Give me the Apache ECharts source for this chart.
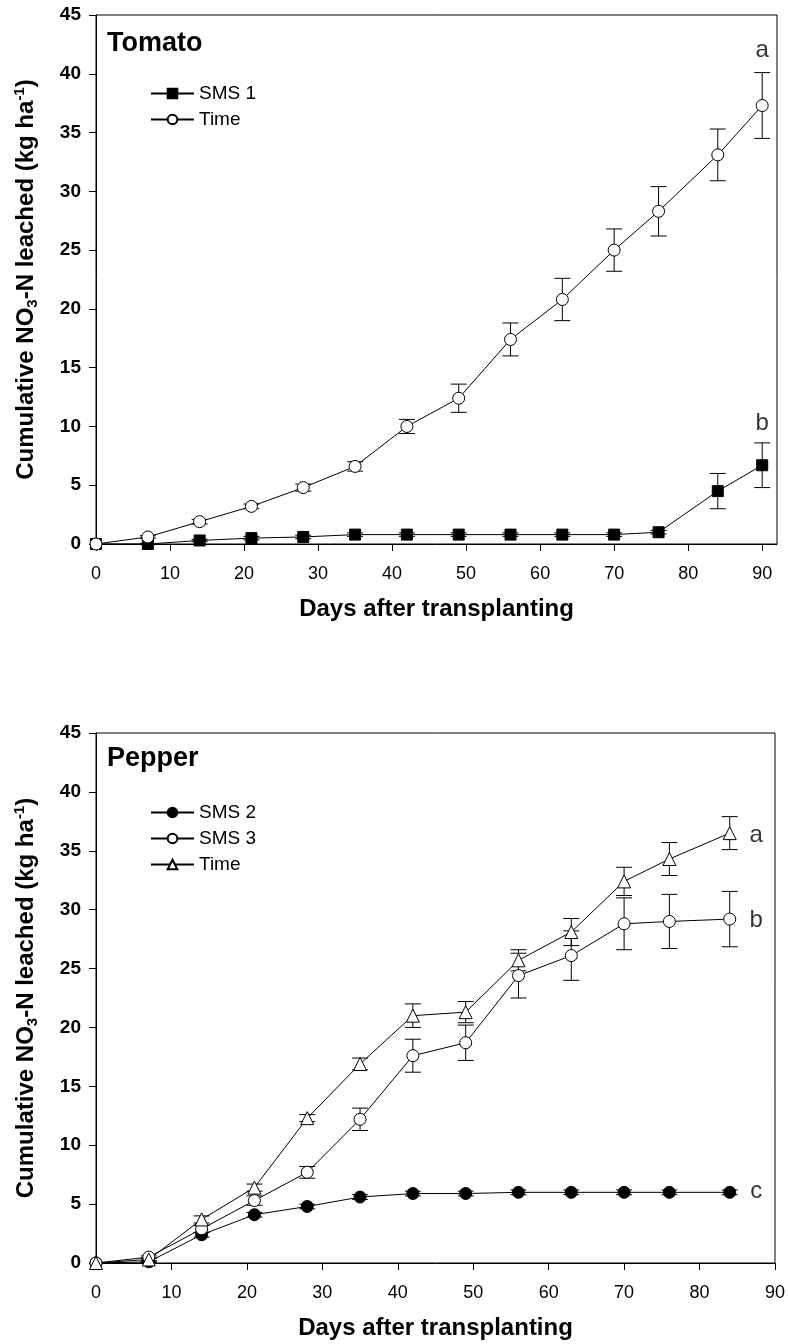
<!DOCTYPE html>
<html>
<head>
<meta charset="utf-8">
<script src="https://cdn.jsdelivr.net/npm/echarts@6/dist/echarts.min.js"></script>
<style>
html, body { margin: 0; padding: 0; background: #fff; }
#nitrate-chart { width: 788px; height: 1344px; }
</style>
</head>
<body>
<div id="nitrate-chart"></div>
<script>
// tomato panel
const tomatoDays = [0, 7, 14, 21, 28, 35, 42, 49, 56, 63, 70, 76, 84, 90]
const tomatoSms1 = [0, 0, 0.3, 0.5, 0.6, 0.8, 0.8, 0.8, 0.8, 0.8, 0.8, 1.0, 4.5, 6.7]
const tomatoSms1Err = [0, 0.05, 0.1, 0.15, 0.15, 0.15, 0.15, 0.15, 0.15, 0.15, 0.15, 0.15, 1.5, 1.9]
const tomatoTime = [0, 0.6, 1.9, 3.2, 4.8, 6.6, 10.0, 12.4, 17.4, 20.8, 25.0, 28.3, 33.1, 37.3]
const tomatoTimeErr = [0, 0.1, 0.2, 0.2, 0.3, 0.4, 0.6, 1.2, 1.4, 1.8, 1.8, 2.1, 2.2, 2.8]
const tomatoLetters = ['a', 'b']
const tomatoLetterPos = [[90, 42], [90, 10.3]]

// pepper panel
const pepperDays = [0, 7, 14, 21, 28, 35, 42, 49, 56, 63, 70, 76, 84]
const pepperSms2 = [0, 0.1, 2.4, 4.1, 4.8, 5.6, 5.9, 5.9, 6.0, 6.0, 6.0, 6.0, 6.0]
const pepperSms2Err = [0, 0.05, 0.2, 0.2, 0.2, 0.2, 0.2, 0.2, 0.2, 0.2, 0.2, 0.2, 0.2]
const pepperSms3 = [0, 0.5, 2.9, 5.3, 7.7, 12.2, 17.6, 18.7, 24.4, 26.1, 28.8, 29.0, 29.2]
const pepperSms3Err = [0, 0.1, 0.3, 0.4, 0.5, 0.95, 1.4, 1.5, 1.9, 2.1, 2.2, 2.3, 2.35]
const pepperTime = [0, 0.3, 3.7, 6.4, 12.3, 16.9, 21.0, 21.3, 25.7, 28.1, 32.4, 34.3, 36.5]
const pepperTimeErr = [0, 0.1, 0.3, 0.3, 0.3, 0.5, 1.0, 0.9, 0.9, 1.15, 1.2, 1.4, 1.4]
const pepperLetters = ['a', 'b', 'c']
const pepperLetterPos = [[87.5, 36.3], [87.5, 29.1], [87.5, 6.1]]

// axis ticks
const xTicks = [0, 10, 20, 30, 40, 50, 60, 70, 80, 90]
const yTicks = [0, 5, 10, 15, 20, 25, 30, 35, 40, 45]

const FONT = '"Liberation Sans", Arial, sans-serif'

const pairs = (days, vals) => days.map((d, i) => [d, vals[i]])
const errPairs = (days, vals, errs) => days
  .map((d, i) => [d, vals[i] - errs[i], vals[i] + errs[i]])
  .filter((p, i) => errs[i] > 0)

function renderErr(params, api) {
  const x = api.value(0)
  const top = api.coord([x, api.value(2)])
  const bot = api.coord([x, api.value(1)])
  const w = 8
  const st = { stroke: '#000', lineWidth: 1 }
  return {
    type: 'group',
    children: [
      { type: 'line', shape: { x1: top[0], y1: top[1], x2: bot[0], y2: bot[1] }, style: st },
      { type: 'line', shape: { x1: top[0] - w, y1: top[1], x2: top[0] + w, y2: top[1] }, style: st },
      { type: 'line', shape: { x1: bot[0] - w, y1: bot[1], x2: bot[0] + w, y2: bot[1] }, style: st }
    ]
  }
}

function errSeries(idx, data) {
  return {
    type: 'custom',
    xAxisIndex: idx,
    yAxisIndex: idx,
    renderItem: renderErr,
    encode: { x: 0, y: [1, 2] },
    data: data,
    z: 1,
    silent: true
  }
}

function lineSeries(idx, name, data, symbol, fill, size) {
  return {
    name: name,
    type: 'line',
    xAxisIndex: idx,
    yAxisIndex: idx,
    data: data,
    symbol: symbol,
    symbolSize: size,
    showAllSymbol: true,
    lineStyle: { color: '#000', width: 1 },
    itemStyle: { color: fill, borderColor: '#000', borderWidth: 1 },
    z: 3,
    animation: false
  }
}

function letterSeries(idx, letters, pos) {
  return {
    type: 'scatter',
    xAxisIndex: idx,
    yAxisIndex: idx,
    symbolSize: 1,
    itemStyle: { color: 'rgba(0,0,0,0)' },
    label: {
      show: true,
      position: 'inside',
      formatter: p => p.name,
      color: '#000',
      fontFamily: FONT,
      fontSize: 24
    },
    data: letters.map((l, i) => ({ name: l, value: pos[i] })),
    z: 4,
    silent: true
  }
}

function xAxisOf(idx, max) {
  return {
    gridIndex: idx,
    type: 'value',
    min: 0,
    max: max,
    interval: 10,
    name: 'Days after transplanting',
    nameLocation: 'middle',
    nameGap: 53,
    nameTextStyle: { fontFamily: FONT, fontSize: 24, fontWeight: 'bold', color: '#000' },
    axisLine: { show: true, onZero: false, lineStyle: { color: '#000', width: 1 } },
    axisTick: { show: true, length: 7, customValues: xTicks, lineStyle: { color: '#000' } },
    axisLabel: { customValues: xTicks, margin: 21, fontFamily: FONT, fontSize: 18, color: '#000' },
    splitLine: { show: false }
  }
}

function yAxisOf(idx) {
  return {
    gridIndex: idx,
    type: 'value',
    min: 0,
    max: 45,
    interval: 5,
    name: '{t|Cumulative NO}{s|3}{t|-N leached (kg ha}{p|-1}{t|)}',
    nameLocation: 'middle',
    nameGap: 56,
    nameTextStyle: {
      color: '#000',
      rich: {
        t: { fontFamily: FONT, fontSize: 24, fontWeight: 'bold', color: '#000', lineHeight: 28 },
        s: { fontFamily: FONT, fontSize: 15, fontWeight: 'bold', color: '#000', verticalAlign: 'bottom', lineHeight: 28 },
        p: { fontFamily: FONT, fontSize: 15, fontWeight: 'bold', color: '#000', verticalAlign: 'top', lineHeight: 28 }
      }
    },
    axisLine: { show: true, lineStyle: { color: '#000', width: 1 } },
    axisTick: { show: true, length: 7, customValues: yTicks, lineStyle: { color: '#000' } },
    axisLabel: { customValues: yTicks, margin: 15, fontFamily: FONT, fontSize: 19, fontWeight: 'bold', color: '#000' },
    splitLine: { show: false }
  }
}

const chart = echarts.init(document.getElementById('nitrate-chart'), null, { renderer: 'canvas' })

const option = {
  backgroundColor: '#fff',
  animation: false,
  title: [
    { text: 'Tomato', left: 107, top: 30, padding: 0, textStyle: { fontFamily: FONT, fontSize: 27, fontWeight: 'bold', color: '#000' } },
    { text: 'Pepper', left: 107, top: 745, padding: 0, textStyle: { fontFamily: FONT, fontSize: 27, fontWeight: 'bold', color: '#000' } }
  ],
  legend: [
    {
      data: ['SMS 1', 'Time'],
      left: 150,
      top: 84,
      orient: 'vertical',
      padding: 0,
      itemWidth: 43,
      itemHeight: 12,
      itemGap: 7,
      textStyle: { fontFamily: FONT, fontSize: 19, color: '#000' },
      selectedMode: false
    },
    {
      data: ['SMS 2', 'SMS 3', 'Pepper Time'],
      formatter: n => n.replace('Pepper ', ''),
      left: 150,
      top: 803,
      orient: 'vertical',
      padding: 0,
      itemWidth: 43,
      itemHeight: 12,
      itemGap: 7,
      textStyle: { fontFamily: FONT, fontSize: 19, color: '#000' },
      selectedMode: false
    }
  ],
  grid: [
    { left: 96, top: 15, right: 11, height: 529, show: true, borderColor: '#000', borderWidth: 1, backgroundColor: 'transparent' },
    { left: 96, top: 733, right: 11, height: 530, show: true, borderColor: '#000', borderWidth: 1, backgroundColor: 'transparent' }
  ],
  xAxis: [xAxisOf(0, 92), xAxisOf(1, 90)],
  yAxis: [yAxisOf(0), yAxisOf(1)],
  series: [
    errSeries(0, errPairs(tomatoDays, tomatoSms1, tomatoSms1Err)),
    errSeries(0, errPairs(tomatoDays, tomatoTime, tomatoTimeErr)),
    lineSeries(0, 'SMS 1', pairs(tomatoDays, tomatoSms1), 'rect', '#000', 11),
    lineSeries(0, 'Time', pairs(tomatoDays, tomatoTime), 'circle', '#fff', 12),
    letterSeries(0, tomatoLetters, tomatoLetterPos),

    errSeries(1, errPairs(pepperDays, pepperSms2, pepperSms2Err)),
    errSeries(1, errPairs(pepperDays, pepperSms3, pepperSms3Err)),
    errSeries(1, errPairs(pepperDays, pepperTime, pepperTimeErr)),
    lineSeries(1, 'SMS 2', pairs(pepperDays, pepperSms2), 'circle', '#000', 12),
    lineSeries(1, 'SMS 3', pairs(pepperDays, pepperSms3), 'circle', '#fff', 12),
    lineSeries(1, 'Pepper Time', pairs(pepperDays, pepperTime), 'triangle', '#fff', 13),
    letterSeries(1, pepperLetters, pepperLetterPos)
  ]
}

chart.setOption(option)
</script>
</body>
</html>
